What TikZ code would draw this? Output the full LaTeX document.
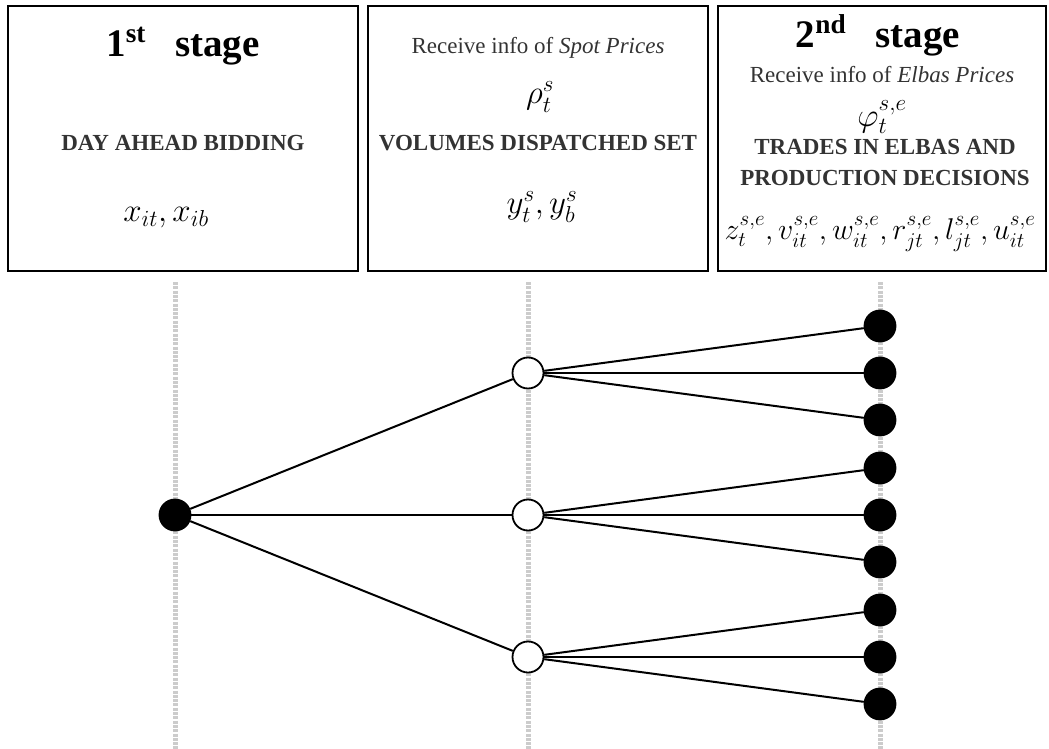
\RequirePackage{fix-cm}
\documentclass[tikz,border=0pt]{standalone}
\usepackage{amsmath}
\usepackage{fontspec}
\setmainfont{Liberation Serif}
\usetikzlibrary{positioning}

\begin{document}
\begin{tikzpicture}[x=1pt,y=-1pt,
        stagebox/.style={draw,line width=1.8pt,minimum height=265pt,inner sep=0pt},
        title/.style={font=\fontsize{39}{42}\selectfont\bfseries,anchor=base},
        info/.style={text=black!80,inner sep=0pt,font=\fontsize{23}{26}\selectfont},
        caps/.style={text=black!80,inner sep=0pt,font=\fontsize{23}{31}\selectfont\bfseries,align=center},
        vars/.style={inner sep=0pt,font=\fontsize{33}{36}\selectfont},
        timeline/.style={line width=5pt,black!20,dash pattern=on 3pt off 1.3pt},
        branch/.style={line width=2pt},
        decision/.style={circle,draw,fill=black,line width=1.8pt,minimum size=31pt,inner sep=0pt},
        chance/.style={circle,draw,fill=white,line width=1.8pt,minimum size=31pt,inner sep=0pt}]

  \useasboundingbox (0,0) rectangle (1049,749);

  % stage boxes
  \node[stagebox,minimum width=350pt] (box1) at (183,138.5) {};
  \node[stagebox,minimum width=340pt] (box2) at (538,138.5) {};
  \node[stagebox,minimum width=328pt] (box3) at (882,138.5) {};

  \node[title] (t1) at (183,57) {1\textsuperscript{st}\hspace{0.5em} stage};
  \node[caps] (c1) at (183,143) {DAY AHEAD BIDDING};
  \node[vars] (v1) at (166,218) {$x_{it}, x_{ib}$};

  \node[info] (i2) at (538,48) {Receive info of \textit{Spot Prices}};
  \node[vars] (p2) at (540,97) {$\rho_t^s$};
  \node[caps] (c2) at (538,143) {VOLUMES DISPATCHED SET};
  \node[vars] (v2) at (542,207) {$y_t^s, y_b^s$};

  \node[title] (t3) at (878,48) {2\textsuperscript{nd}\hspace{0.5em} stage};
  \node[info] (i3) at (882,75) {Receive info of \textit{Elbas Prices}};
  \node[vars] (p3) at (882,117) {$\varphi_t^{s,e}$};
  \node[caps] (c3) at (885,162) {TRADES IN ELBAS AND\\PRODUCTION DECISIONS};
  \node[vars,font=\fontsize{30}{33}\selectfont] (v3) at (880,234)
    {$z_t^{s,e}, v_{it}^{s,e}, w_{it}^{s,e}, r_{jt}^{s,e}, l_{jt}^{s,e}, u_{it}^{s,e}$};

  % time lines
  \foreach \name/\x in {a/175,b/528,c/880} {
    \coordinate (\name top) at (\x,282);
    \coordinate (\name bot) at (\x,749);
    \draw[timeline] (\name top) -- (\name bot);
  }

  % scenario tree
  \node[decision] (root) at (175,515) {};
  \foreach \m/\y in {1/373,2/515,3/657} {
    \node[chance] (m\m) at (528,\y) {};
    \path[branch] (root) edge (m\m);
    \foreach \k/\dy in {1/-47,2/0,3/47} {
      \node[decision] (l\m\k) at (880,\y+\dy) {};
      \path[branch] (m\m) edge (l\m\k);
    }
  }

\end{tikzpicture}
\end{document}
